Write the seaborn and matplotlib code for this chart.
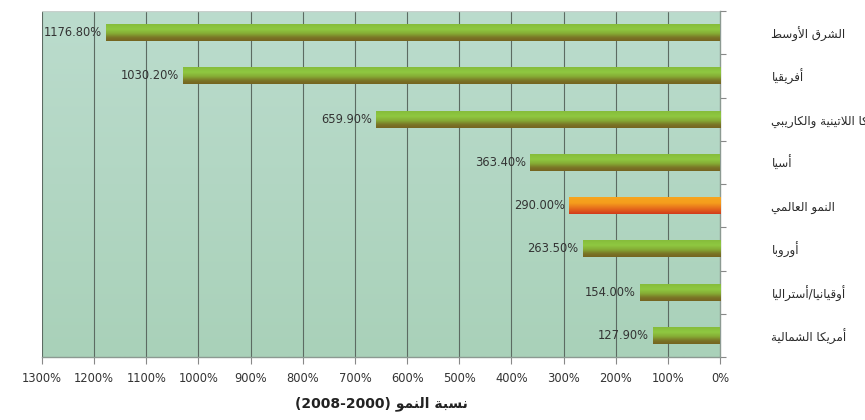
import numpy as np
import pandas as pd
import matplotlib
matplotlib.use("Agg")
import matplotlib.pyplot as plt
from matplotlib.colors import LinearSegmentedColormap
import seaborn as sns

# ---------------- data ----------------
regions = ["الشرق الأوسط", "أفريقيا", "أمريكا اللاتينية والكاريبي", "أسيا",
           "النمو العالمي", "أوروبا", "أوقيانيا/أستراليا", "أمريكا الشمالية"]
growth = [1176.8, 1030.2, 659.9, 363.4, 290.0, 263.5, 154.0, 127.9]
value_labels = ["1176.80%", "1030.20%", "659.90%", "363.40%",
                "290.00%", "263.50%", "154.00%", "127.90%"]
x_ticks = [1300, 1200, 1100, 1000, 900, 800, 700, 600, 500, 400, 300, 200, 100, 0]
x_tick_labels = [f"{t}%" for t in x_ticks]
highlight = "النمو العالمي"
axis_title_words = "نسبة النمو"
axis_title_years = "(2008-2000)"

# ------------- minimal Arabic shaping (presentation forms + RTL) -------------
_FORMS = {
    'ء': (0xFE80, 1), 'آ': (0xFE81, 2), 'أ': (0xFE83, 2), 'ؤ': (0xFE85, 2),
    'إ': (0xFE87, 2), 'ئ': (0xFE89, 4), 'ا': (0xFE8D, 2), 'ب': (0xFE8F, 4),
    'ة': (0xFE93, 2), 'ت': (0xFE95, 4), 'ث': (0xFE99, 4), 'ج': (0xFE9D, 4),
    'ح': (0xFEA1, 4), 'خ': (0xFEA5, 4), 'د': (0xFEA9, 2), 'ذ': (0xFEAB, 2),
    'ر': (0xFEAD, 2), 'ز': (0xFEAF, 2), 'س': (0xFEB1, 4), 'ش': (0xFEB5, 4),
    'ص': (0xFEB9, 4), 'ض': (0xFEBD, 4), 'ط': (0xFEC1, 4), 'ظ': (0xFEC5, 4),
    'ع': (0xFEC9, 4), 'غ': (0xFECD, 4), 'ف': (0xFED1, 4), 'ق': (0xFED5, 4),
    'ك': (0xFED9, 4), 'ل': (0xFEDD, 4), 'م': (0xFEE1, 4), 'ن': (0xFEE5, 4),
    'ه': (0xFEE9, 4), 'و': (0xFEED, 2), 'ى': (0xFEEF, 2), 'ي': (0xFEF1, 4),
}
_LAMALEF = {'آ': 0xFEF5, 'أ': 0xFEF7, 'إ': 0xFEF9, 'ا': 0xFEFB}


def _joins_after(c):
    return c in _FORMS and _FORMS[c][1] == 4


def rtl(s):
    out = []
    i = 0
    while i < len(s):
        c = s[i]
        if c not in _FORMS:
            out.append(c)
            i += 1
            continue
        prev_j = i > 0 and _joins_after(s[i - 1])
        if c == 'ل' and i + 1 < len(s) and s[i + 1] in _LAMALEF:
            base = _LAMALEF[s[i + 1]]
            out.append(chr(base + 1 if prev_j else base))
            i += 2
            continue
        next_j = _joins_after(c) and i + 1 < len(s) and s[i + 1] in _FORMS
        base, n = _FORMS[c]
        if n == 1:
            g = base
        elif n == 2:
            g = base + 1 if prev_j else base
        else:
            if prev_j and next_j:
                g = base + 3
            elif prev_j:
                g = base + 1
            elif next_j:
                g = base + 2
            else:
                g = base
        out.append(chr(g))
        i += 1
    return "".join(out)[::-1]


# ---------------- figure ----------------
sns.set_theme(style="white")
plt.rcParams['font.family'] = ['DejaVu Sans']
text_col = "#333333"

df = pd.DataFrame({"region": regions, "growth": growth})

fig = plt.figure(figsize=(8.65, 4.2), dpi=100)
ax = fig.add_axes([42 / 865, 1 - 357 / 420, (720 - 42) / 865, (357 - 11) / 420])

sns.barplot(data=df, x="growth", y="region", orient="h", ax=ax,
            color="#8dc63f", width=0.39, saturation=1, zorder=3)

# background gradient
bg = LinearSegmentedColormap.from_list("bg", ["#bbdccd", "#a9d1b9"])
ax.imshow(np.linspace(0, 1, 256).reshape(-1, 1), cmap=bg, aspect="auto",
          extent=(0, 1, 0, 1), origin="upper", transform=ax.transAxes, zorder=0)

green = LinearSegmentedColormap.from_list(
    "g", [(0, "#86bd3b"), (0.3, "#8fc841"), (0.55, "#86ad35"), (0.8, "#7a7526"), (1, "#756420")])
orange = LinearSegmentedColormap.from_list(
    "o", [(0, "#f7a51f"), (0.35, "#f59d1c"), (0.7, "#e5681c"), (1, "#d13a1b")])

grad = np.linspace(0, 1, 64).reshape(-1, 1)
for patch, name in zip(ax.patches, regions):
    x0, y0 = patch.get_x(), patch.get_y()
    w, h = patch.get_width(), patch.get_height()
    cm = orange if name == highlight else green
    im = ax.imshow(grad, cmap=cm, aspect="auto", origin="upper",
                   extent=(x0, x0 + w, y0 + h, y0), zorder=3, interpolation="bilinear")
    im.set_clip_path(patch)
    patch.set_facecolor("none")
    patch.set_edgecolor("none")

# value labels
for i, (v, lab) in enumerate(zip(growth, value_labels)):
    ax.annotate(lab, (v, i), xytext=(-3, 0), textcoords="offset points",
                ha="right", va="center", fontsize=8.3, color=text_col, zorder=5)

ax.set_xlim(1300, 0)
ax.set_ylim(len(regions) - 0.5, -0.5)

# vertical grid
for t in x_ticks[:-1]:
    ax.axvline(t, color="#5c6b62", lw=0.8, zorder=2)

ax.set_xticks(x_ticks)
ax.set_xticklabels(x_tick_labels, fontsize=8.3, color=text_col)
ax.tick_params(axis="x", direction="out", length=5, width=0.8, color="#888888",
               bottom=True, pad=6)

ax.yaxis.tick_right()
ax.set_yticks(range(len(regions)))
ax.set_yticklabels([rtl(r) for r in regions], fontsize=8.6, color="#2a2a2a")
ax.tick_params(axis="y", which="major", length=0, pad=37)
ax.set_yticks(np.arange(-0.5, len(regions)), minor=True)
ax.tick_params(axis="y", which="minor", direction="out", length=4, width=0.8,
               color="#888888", right=True, left=False)

ax.set_ylabel("")
ax.set_xlabel(axis_title_years + " " + rtl(axis_title_words), fontsize=10,
              fontweight="bold", color="#222222", labelpad=8)

for side in ["left", "top"]:
    ax.spines[side].set_visible(False)
ax.spines["right"].set_color("#8c9a92")
ax.spines["bottom"].set_color("#8c9a92")
ax.spines["right"].set_linewidth(1.0)
ax.spines["bottom"].set_linewidth(1.0)
ax.axhline(-0.5, color="#c8d0cc", lw=1.0, zorder=2)

fig.savefig("out.png", dpi=100)
